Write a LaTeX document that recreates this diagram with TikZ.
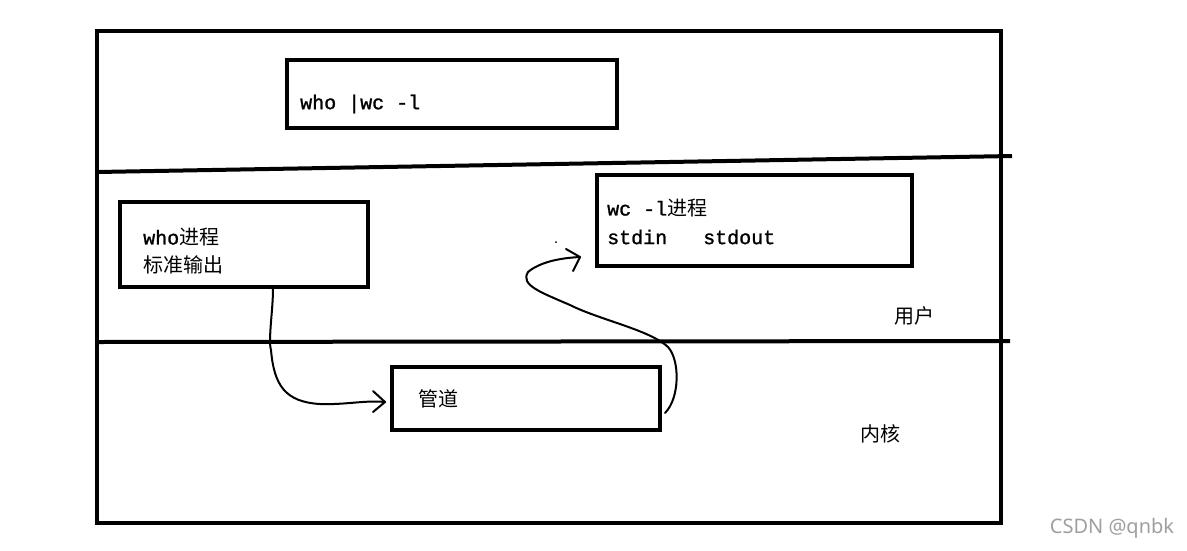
\documentclass[tikz,border=0pt]{standalone}
\usepackage{fontspec}
\newfontfamily\cjk{Noto Sans CJK SC}
\newfontfamily\mono[FakeBold=1.2]{Liberation Mono}
\newfontfamily\wmfont{Noto Sans}
\begin{document}
\begin{tikzpicture}[x=1pt,y=-1pt,
  frame/.style={line width=4pt},
  bx/.style={draw,line width=4pt},
  lbl/.style={anchor=west,inner sep=0pt,font=\fontsize{20}{24}\selectfont},
  curve/.style={line width=2pt,line join=round,line cap=round}]
\useasboundingbox (0,0) rectangle (1187,550);
\fill[white] (0,0) rectangle (1187,550);
% outer frame and divisions
\draw[frame] (97,31) rectangle (1001,523);
\coordinate (l1a) at (97,172); \coordinate (l1b) at (1012,156);
\coordinate (l2a) at (97,342); \coordinate (l2b) at (1010,341);
\draw[frame] (l1a) -- (l1b);
\draw[frame] (l2a) -- (l2b);
% boxes
\draw[bx] (287,60) rectangle (617,128);
\node[lbl] (cmd) at (300,104) {\mono who |wc -l};
\draw[bx] (120,202) rectangle (368,287);
\coordinate (whobot) at (273,289);
\node[lbl] (who1) at (143,237) {\mono who\cjk 进程};
\node[lbl] (who2) at (143,265) {\cjk 标准输出};
\draw[bx] (597,175) rectangle (912,266);
\node[lbl] (wc1) at (607,208) {\mono wc -l\cjk 进程};
\node[lbl] (wc2) at (607,237) {\mono stdin\ \ \ stdout};
\draw[bx] (392,367) rectangle (660,430);
\node[lbl] (pipe) at (418,399) {\cjk 管道};
\coordinate (piperight) at (665,413);
\node[lbl] (user) at (894,316) {\cjk 用户};
\node[lbl] (kernel) at (860,434) {\cjk 内核};
\node[anchor=center,inner sep=0pt,text=gray!75,font=\fontsize{20}{22}\selectfont\wmfont] (wm) at (1112,528) {CSDN @qnbk};
% curve 1
\coordinate (a1) at (385,402);
\draw[curve] (whobot) .. controls (273,310) and (268,340) .. (271,350)
  .. controls (274,385) and (285,402) .. (320,404)
  .. controls (345,405) and (365,400) .. (a1);
\draw[curve] (373,391) -- (a1) -- (373,412);
% curve 2
\coordinate (a2) at (580,257);
\draw[curve] (piperight) .. controls (680,398) and (680,360) .. (668,347)
  .. controls (650,330) and (600,320) .. (570,305)
  .. controls (540,292) and (520,285) .. (528,272)
  .. controls (540,262) and (560,258) .. (a2);
\draw[curve] (566,249) -- (a2) -- (573,271);
\fill (556,242) circle (1pt);
\end{tikzpicture}
\end{document}
